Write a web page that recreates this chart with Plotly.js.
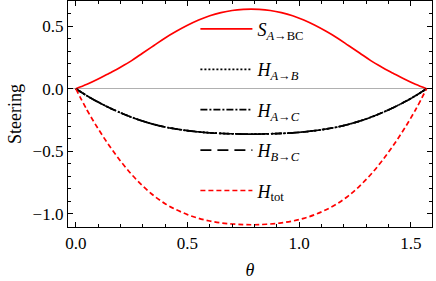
<!DOCTYPE html>
<html><head><meta charset="utf-8">
<script src="https://cdn.plot.ly/plotly-3.0.1.min.js"></script>
<style>html,body{margin:0;padding:0;background:#fff}#c{width:436px;height:281px}</style>
</head><body><div id="c"></div>
<script>
const theta = [0, 0.05, 0.1, 0.15, 0.2, 0.25, 0.3, 0.35, 0.4, 0.45, 0.5, 0.55, 0.6, 0.65, 0.7, 0.75, 0.7854,
  0.8208, 0.8708, 0.9208, 0.9708, 1.0208, 1.0708, 1.1208, 1.1708, 1.2208, 1.2708, 1.3208, 1.3708, 1.4208, 1.4708, 1.5208, 1.5708];
const S_A_BC = [0, 0.035, 0.077, 0.124, 0.172, 0.224, 0.285, 0.345, 0.405, 0.458, 0.506, 0.548, 0.582, 0.607, 0.624, 0.633, 0.635,
  0.633, 0.624, 0.607, 0.582, 0.548, 0.506, 0.458, 0.405, 0.345, 0.285, 0.224, 0.172, 0.124, 0.077, 0.035, 0];
const H_A_B = [0, -0.057, -0.107, -0.152, -0.192, -0.228, -0.259, -0.285, -0.306, -0.322, -0.335, -0.345, -0.352, -0.357, -0.36, -0.362, -0.362,
  -0.362, -0.36, -0.357, -0.352, -0.345, -0.335, -0.322, -0.306, -0.285, -0.259, -0.228, -0.192, -0.152, -0.107, -0.057, 0];
const H_A_C = [0, -0.057, -0.107, -0.152, -0.192, -0.228, -0.259, -0.285, -0.306, -0.322, -0.335, -0.345, -0.352, -0.357, -0.36, -0.362, -0.362,
  -0.362, -0.36, -0.357, -0.352, -0.345, -0.335, -0.322, -0.306, -0.285, -0.259, -0.228, -0.192, -0.152, -0.107, -0.057, 0];
const H_B_C = [0, -0.057, -0.107, -0.152, -0.192, -0.228, -0.259, -0.285, -0.306, -0.322, -0.335, -0.345, -0.352, -0.357, -0.36, -0.362, -0.362,
  -0.362, -0.36, -0.357, -0.352, -0.345, -0.335, -0.322, -0.306, -0.285, -0.259, -0.228, -0.192, -0.152, -0.107, -0.057, 0];
const H_tot = [0, -0.17, -0.32, -0.455, -0.577, -0.685, -0.777, -0.855, -0.918, -0.966, -1.005, -1.035, -1.056, -1.071, -1.08, -1.085, -1.086,
  -1.085, -1.08, -1.071, -1.056, -1.035, -1.005, -0.966, -0.918, -0.855, -0.777, -0.685, -0.577, -0.455, -0.32, -0.17, 0];
const names = ['<i>S</i><sub><i>A</i>→BC</sub>', '<i>H</i><sub><i>A</i>→<i>B</i></sub>', '<i>H</i><sub><i>A</i>→<i>C</i></sub>',
  '<i>H</i><sub><i>B</i>→<i>C</i></sub>', '<i>H</i><sub>tot</sub>'];
const xTickVals = [0, 0.5, 1.0, 1.5];
const yTickVals = [-1.0, -0.5, 0.0, 0.5];

const series = [S_A_BC, H_A_B, H_A_C, H_B_C, H_tot];
const colors = ['#ff0000', '#000000', '#000000', '#000000', '#ff0000'];
const dashes = ['solid', '2px,2px', '7px,2px,2px,2px', '11px,6px', '5px,3px'];
const traces = series.map((y, i) => ({
  x: theta, y: y, type: 'scatter', mode: 'lines', name: names[i], legendgroup: 'g' + i,
  line: {color: colors[i], width: 1.7, dash: dashes[i], shape: 'spline'}
}));

const fontFam = 'Liberation Serif';
const axisCommon = {
  showgrid: false, showline: true, linecolor: '#000', linewidth: 1.2, mirror: 'allticks',
  ticks: 'inside', ticklen: 5, tickwidth: 1, tickcolor: '#000',
  tickfont: {family: fontFam, size: 17, color: '#000'}, tickformat: '.1f'
};
const layout = {
  width: 436, height: 281,
  margin: {l: 68, r: 4, t: 1, b: 54},
  paper_bgcolor: '#fff', plot_bgcolor: '#fff',
  font: {family: fontFam, color: '#000'},
  showlegend: true,
  legend: {x: 0.35, y: 0.957, xanchor: 'left', yanchor: 'top', bgcolor: 'rgba(0,0,0,0)',
    font: {family: fontFam, size: 18, color: '#000'}, itemwidth: 52, tracegroupgap: 14},
  xaxis: Object.assign({}, axisCommon, {
    range: [-0.035, 1.595], tickvals: xTickVals, zeroline: false,
    minor: {dtick: 0.1, tick0: 0, ticks: 'inside', ticklen: 3, tickcolor: '#000', showgrid: false},
    title: {text: '<i>θ</i>', font: {family: fontFam, size: 18, color: '#000'}, standoff: 11}
  }),
  yaxis: Object.assign({}, axisCommon, {
    range: [-1.104, 0.70], tickvals: yTickVals, zeroline: true, zerolinecolor: '#b0b0b0', zerolinewidth: 1,
    minor: {dtick: 0.1, tick0: 0, ticks: 'inside', ticklen: 3, tickcolor: '#000', showgrid: false},
    title: {text: 'Steering', font: {family: fontFam, size: 18, color: '#000'}, standoff: 6}
  })
};
Plotly.newPlot('c', traces, layout, {displayModeBar: false, staticPlot: true});
</script></body></html>
